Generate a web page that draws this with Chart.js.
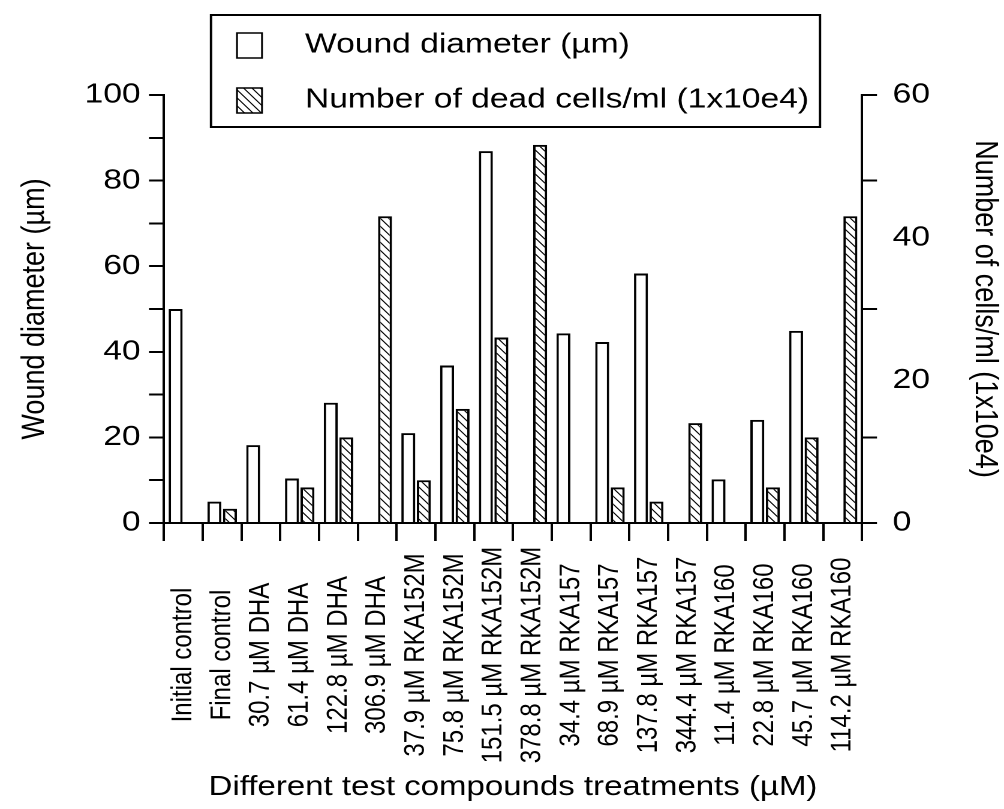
<!DOCTYPE html>
<html>
<head>
<meta charset="utf-8">
<script src="https://cdn.jsdelivr.net/npm/chart.js@4.4.1/dist/chart.umd.min.js"></script>
<style>
  html, body { margin: 0; padding: 0; background: #fff; overflow: hidden; }
  /* the figure is wider than tall in its lettering, so draw narrow and stretch */
  #wrap { width: 837px; height: 809px; transform: scaleX(1.19952); transform-origin: 0 0; }
</style>
</head>
<body>
<div id="wrap"><canvas id="chart"></canvas></div>
<script>
const treatments = [
  "Initial control", "Final control",
  "30.7 µM DHA", "61.4 µM DHA", "122.8 µM DHA", "306.9 µM DHA",
  "37.9 µM RKA152M", "75.8 µM RKA152M", "151.5 µM RKA152M", "378.8 µM RKA152M",
  "34.4 µM RKA157", "68.9 µM RKA157", "137.8 µM RKA157", "344.4 µM RKA157",
  "11.4 µM RKA160", "22.8 µM RKA160", "45.7 µM RKA160", "114.2 µM RKA160"
];
const woundDiameter = [50, 5, 18.2, 10.4, 28.1, 0, 21, 36.8, 86.9, 0, 44.3, 42.3, 58.3, 0, 10.2, 24.1, 44.9, 0];
const deadCells = [0, 2, 0, 5, 12, 43, 6, 16, 26, 53, 0, 5, 3, 14, 0, 5, 12, 43];

const leftTicks = [0, 10, 20, 30, 40, 50, 60, 70, 80, 90, 100];
const leftLabels = [0, 20, 40, 60, 80, 100];
const rightTicks = [0, 6, 12, 18, 24, 30, 36, 42, 48, 54, 60];
const rightLabels = [0, 20, 40, 60];

const SX = 1004 / 837;           // horizontal stretch applied by css
const W = 837, H = 809;
const DPR = 2;
const plotLeft = 164 / SX, plotRight = 862 / SX, plotBottom = 523;

const FONT = '"Liberation Sans", Arial, sans-serif';
Chart.defaults.color = "#000";
Chart.defaults.font.family = FONT;

function makeHatch() {
  // tile drawn at device resolution, scaled back to 7x8 css px
  const c = document.createElement("canvas");
  c.width = 7 * DPR; c.height = 8 * DPR;
  const g = c.getContext("2d");
  g.scale(DPR, DPR);
  g.fillStyle = "#fff";
  g.fillRect(0, 0, 7, 8);
  g.strokeStyle = "#000";
  g.lineWidth = 1;
  g.beginPath();
  g.moveTo(-0.875, -1); g.lineTo(7.875, 9);
  g.moveTo(-0.875, 7); g.lineTo(0.875, 9);
  g.moveTo(6.125, -1); g.lineTo(7.875, 1);
  g.stroke();
  const p = g.createPattern(c, "repeat");
  if (p.setTransform) p.setTransform(new DOMMatrix().scale(1 / DPR));
  return p;
}
const hatch = makeHatch();

// legend drawn as a box over the top of the plot
const boxLegend = {
  id: "boxLegend",
  afterDraw(chart) {
    const ctx = chart.ctx;
    ctx.save();
    ctx.fillStyle = "#fff";
    ctx.strokeStyle = "#000";
    ctx.lineWidth = 2;
    ctx.fillRect(211 / SX, 15, 609 / SX, 112);
    ctx.strokeRect(211 / SX, 15, 609 / SX, 112);
    chart.data.datasets.forEach(function (ds, i) {
      const y = 45 + i * 55;
      ctx.fillStyle = ds.backgroundColor;
      ctx.fillRect(237 / SX, y - 12, 25 / SX, 25);
      ctx.lineWidth = 1.5;
      ctx.strokeRect(237 / SX, y - 12, 25 / SX, 25);
      ctx.fillStyle = "#000";
      ctx.font = "28px " + FONT;
      ctx.textBaseline = "middle";
      ctx.textAlign = "left";
      ctx.fillText(ds.label, 305 / SX, y);
    });
    ctx.restore();
  }
};

// category names, rotated and centred on a common line under the axis
const centredXLabels = {
  id: "centredXLabels",
  afterDraw(chart) {
    const sc = chart.scales.x;
    const ctx = chart.ctx;
    ctx.save();
    ctx.font = "24px " + FONT;
    ctx.fillStyle = "#000";
    ctx.textAlign = "center";
    ctx.textBaseline = "middle";
    chart.data.labels.forEach(function (lab, i) {
      ctx.save();
      ctx.translate(sc.getPixelForTick(i), chart.chartArea.bottom + 132);
      ctx.rotate(-Math.PI / 2);
      ctx.fillText(lab, 0, 0);
      ctx.restore();
    });
    ctx.restore();
  }
};

function valuesToTicks(list) {
  return list.map(function (v) { return { value: v }; });
}

new Chart(document.getElementById("chart"), {
  type: "bar",
  data: {
    labels: treatments,
    datasets: [
      {
        label: "Wound diameter (µm)",
        data: woundDiameter,
        yAxisID: "y",
        backgroundColor: "#fff",
        borderColor: "#000",
        borderWidth: 2
      },
      {
        label: "Number of dead cells/ml (1x10e4)",
        data: deadCells,
        yAxisID: "y2",
        backgroundColor: hatch,
        borderColor: "#000",
        borderWidth: 2
      }
    ]
  },
  options: {
    responsive: true,
    maintainAspectRatio: false,
    animation: false,
    devicePixelRatio: DPR,
    categoryPercentage: 0.8,
    barPercentage: 0.9,
    layout: { padding: { top: 95, left: 0, right: 0, bottom: 0 } },
    plugins: { legend: { display: false }, tooltip: { enabled: false } },
    scales: {
      x: {
        grid: { display: true, drawOnChartArea: false, offset: true, tickLength: 18, color: "#000", lineWidth: 2 },
        border: { display: true, color: "#000", width: 2 },
        ticks: { display: false, autoSkip: false },
        title: { display: true, text: "Different test compounds treatments (µM)", font: { size: 27.5 }, padding: { top: 0, bottom: 5 } },
        afterFit: function (s) { s.height = H - plotBottom; }
      },
      y: {
        position: "left",
        min: 0, max: 100,
        afterBuildTicks: function (s) { s.ticks = valuesToTicks(leftTicks); },
        grid: { drawOnChartArea: false, tickLength: 12.5, color: "#000", lineWidth: 2 },
        border: { display: true, color: "#000", width: 2 },
        ticks: {
          padding: 7,
          font: { size: 28 },
          callback: function (v) { return leftLabels.indexOf(v) >= 0 ? String(v) : ""; }
        },
        title: { display: true, text: "Wound diameter (µm)", font: { size: 27 }, padding: { top: 13, bottom: 0 } },
        afterFit: function (s) { s.width = plotLeft; }
      },
      y2: {
        position: "right",
        min: 0, max: 60,
        afterBuildTicks: function (s) {
          const all = rightTicks.concat(rightLabels.filter(function (v) { return rightTicks.indexOf(v) < 0; }));
          all.sort(function (a, b) { return a - b; });
          s.ticks = valuesToTicks(all);
        },
        grid: {
          drawOnChartArea: false, tickLength: 12.5, lineWidth: 2,
          color: function (c) { return c.tick && rightTicks.indexOf(c.tick.value) < 0 ? "rgba(0,0,0,0)" : "#000"; }
        },
        border: { display: true, color: "#000", width: 2 },
        ticks: {
          padding: 13,
          font: { size: 28 },
          callback: function (v) { return rightLabels.indexOf(v) >= 0 ? String(v) : ""; }
        },
        title: { display: true, text: "Number of cells/ml (1x10e4)", font: { size: 27 }, padding: { top: 0, bottom: 0 } },
        afterFit: function (s) { s.width = W - plotRight; }
      }
    }
  },
  plugins: [boxLegend, centredXLabels]
});
</script>
</body>
</html>
